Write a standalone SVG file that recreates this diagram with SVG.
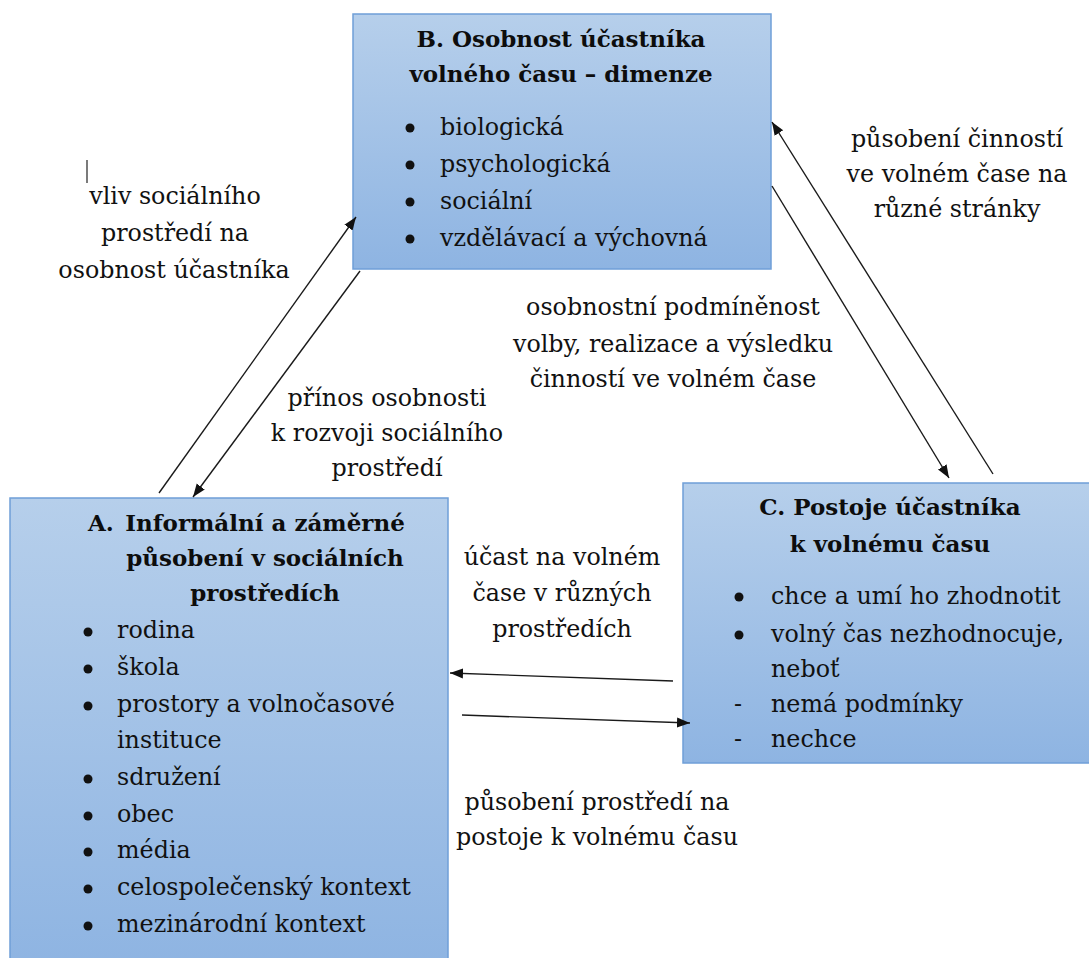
<svg xmlns="http://www.w3.org/2000/svg" width="1089" height="958" viewBox="0 0 1089 958">
<style>
.t{font-family:"DejaVu Serif","Liberation Serif",serif;font-size:23.8px;fill:#111}
.b{font-weight:bold;font-size:23px;fill:#0d0d0d}
.m{text-anchor:middle}
.box{fill:url(#g);stroke:#6f9fd8;stroke-width:1.5}
.ln{stroke:#1a1a1a;stroke-width:1.4;fill:none}
.dot{fill:#111}
</style>
<defs>
<linearGradient id="g" x1="0" y1="0" x2="0" y2="1">
<stop offset="0" stop-color="#b6cfeb"/>
<stop offset="1" stop-color="#8eb4e2"/>
</linearGradient>
<marker id="ah" markerUnits="userSpaceOnUse" markerWidth="14" markerHeight="12" refX="13" refY="5" orient="auto" viewBox="0 0 14 10">
<path d="M0,0 L13,5 L0,10 z" fill="#111"/>
</marker>
</defs>
<rect width="1089" height="958" fill="#fff"/>

<g id="nodeB">
<rect class="box" x="353" y="14" width="418" height="255"/>
<text class="t b m" x="561" y="47">B. Osobnost účastníka</text>
<text class="t b m" x="561" y="82">volného času – dimenze</text>
<circle class="dot" cx="410" cy="128" r="4.5"/>
<circle class="dot" cx="410" cy="165" r="4.5"/>
<circle class="dot" cx="410" cy="202" r="4.5"/>
<circle class="dot" cx="410" cy="239" r="4.5"/>
<text class="t" x="440" y="135">biologická</text>
<text class="t" x="440" y="172">psychologická</text>
<text class="t" x="440" y="209">sociální</text>
<text class="t" x="440" y="246">vzdělávací a výchovná</text>
</g>

<g id="nodeA">
<rect class="box" x="10" y="498" width="438" height="470"/>
<text class="t b" x="88" y="531">A.</text>
<text class="t b m" x="265" y="531">Informální a záměrné</text>
<text class="t b m" x="265" y="566">působení v sociálních</text>
<text class="t b m" x="265" y="601">prostředích</text>
<circle class="dot" cx="88" cy="632" r="4.5"/>
<circle class="dot" cx="88" cy="669" r="4.5"/>
<circle class="dot" cx="88" cy="706" r="4.5"/>
<circle class="dot" cx="88" cy="779" r="4.5"/>
<circle class="dot" cx="88" cy="816" r="4.5"/>
<circle class="dot" cx="88" cy="852" r="4.5"/>
<circle class="dot" cx="88" cy="889" r="4.5"/>
<circle class="dot" cx="88" cy="926" r="4.5"/>
<text class="t" x="117" y="638">rodina</text>
<text class="t" x="117" y="675">škola</text>
<text class="t" x="117" y="712">prostory a volnočasové</text>
<text class="t" x="117" y="748">instituce</text>
<text class="t" x="117" y="785">sdružení</text>
<text class="t" x="117" y="822">obec</text>
<text class="t" x="117" y="858">média</text>
<text class="t" x="117" y="895">celospolečenský kontext</text>
<text class="t" x="117" y="932">mezinárodní kontext</text>
</g>

<g id="nodeC">
<rect class="box" x="683" y="483" width="416" height="280"/>
<text class="t b m" x="890" y="515">C. Postoje účastníka</text>
<text class="t b m" x="890" y="552">k volnému času</text>
<circle class="dot" cx="739" cy="597" r="4.5"/>
<circle class="dot" cx="739" cy="635" r="4.5"/>
<text class="t" x="771" y="604">chce a umí ho zhodnotit</text>
<text class="t" x="771" y="642">volný čas nezhodnocuje,</text>
<text class="t" x="771" y="677">neboť</text>
<text class="t" x="734" y="712">-</text>
<text class="t" x="771" y="712">nemá podmínky</text>
<text class="t" x="734" y="747">-</text>
<text class="t" x="771" y="747">nechce</text>
</g>

<g id="connectors">
<line class="ln" x1="159" y1="493" x2="356" y2="217" marker-end="url(#ah)"/>
<line class="ln" x1="360" y1="271" x2="193" y2="497" marker-end="url(#ah)"/>
<line class="ln" x1="772" y1="186" x2="949" y2="478" marker-end="url(#ah)"/>
<line class="ln" x1="993" y1="474" x2="772" y2="122" marker-end="url(#ah)"/>
<line class="ln" x1="673" y1="681" x2="450" y2="673" marker-end="url(#ah)"/>
<line class="ln" x1="462" y1="715" x2="690" y2="723" marker-end="url(#ah)"/>
</g>

<g id="labels">
<line x1="87" y1="160" x2="87" y2="183" stroke="#222" stroke-width="1.2"/>
<text class="t m" x="175" y="204">vliv sociálního</text>
<text class="t m" x="175" y="241">prostředí na</text>
<text class="t m" x="174" y="278">osobnost účastníka</text>
<text class="t m" x="387" y="406">přínos osobnosti</text>
<text class="t m" x="387" y="441">k rozvoji sociálního</text>
<text class="t m" x="387" y="476">prostředí</text>
<text class="t m" x="957" y="147">působení činností</text>
<text class="t m" x="957" y="182">ve volném čase na</text>
<text class="t m" x="957" y="217">různé stránky</text>
<text class="t m" x="673" y="315">osobnostní podmíněnost</text>
<text class="t m" x="673" y="352">volby, realizace a výsledku</text>
<text class="t m" x="673" y="387">činností ve volném čase</text>
<text class="t m" x="562" y="565">účast na volném</text>
<text class="t m" x="562" y="601">čase v různých</text>
<text class="t m" x="562" y="637">prostředích</text>
<text class="t m" x="597" y="810">působení prostředí na</text>
<text class="t m" x="597" y="845">postoje k volnému času</text>
</g>
</svg>
